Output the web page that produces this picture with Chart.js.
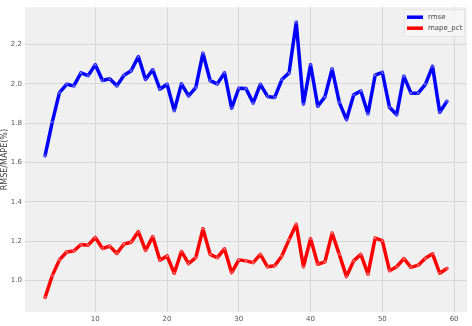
<!DOCTYPE html>
<html>
<head>
<meta charset="utf-8">
<script src="https://cdn.jsdelivr.net/npm/chart.js@4"></script>
<style>
  html, body { margin: 0; padding: 0; background: #fff; }
  #wrap { width: 472px; height: 326px; }
</style>
</head>
<body>
<div id="wrap"><canvas id="myChart" width="472" height="326"></canvas></div>
<script>
// x positions (window size)
const steps = [3, 4, 5, 6, 7, 8, 9, 10, 11, 12, 13, 14, 15, 16, 17, 18, 19, 20,
  21, 22, 23, 24, 25, 26, 27, 28, 29, 30, 31, 32, 33, 34, 35, 36, 37, 38, 39, 40,
  41, 42, 43, 44, 45, 46, 47, 48, 49, 50, 51, 52, 53, 54, 55, 56, 57, 58, 59];

const rmse = [1.635, 1.806, 1.956, 1.998, 1.99, 2.056, 2.042, 2.097, 2.017, 2.026,
  1.99, 2.044, 2.067, 2.139, 2.022, 2.072, 1.973, 1.998, 1.864, 2.0,
  1.939, 1.981, 2.156, 2.017, 2.0, 2.056, 1.876, 1.978, 1.976, 1.903,
  1.998, 1.936, 1.931, 2.022, 2.056, 2.313, 1.898, 2.097, 1.886, 1.934,
  2.076, 1.906, 1.818, 1.944, 1.964, 1.848, 2.044, 2.059, 1.881, 1.843,
  2.039, 1.953, 1.953, 1.998, 2.089, 1.856, 1.911];

const mapePct = [0.914, 1.025, 1.105, 1.145, 1.15, 1.183, 1.18, 1.219, 1.163, 1.175,
  1.138, 1.186, 1.195, 1.249, 1.153, 1.224, 1.103, 1.125, 1.037, 1.148,
  1.086, 1.116, 1.263, 1.133, 1.116, 1.161, 1.04, 1.105, 1.1, 1.091,
  1.133, 1.07, 1.075, 1.125, 1.208, 1.286, 1.07, 1.213, 1.083, 1.095,
  1.241, 1.133, 1.02, 1.1, 1.133, 1.033, 1.216, 1.203, 1.05, 1.07,
  1.111, 1.067, 1.078, 1.113, 1.136, 1.037, 1.061];

const xTicks = [10, 20, 30, 40, 50, 60];
const yTicks = [1.0, 1.2, 1.4, 1.6, 1.8, 2.0, 2.2];

function toPoints(vals) {
    return vals.map(function (v, i) { return { x: steps[i], y: v }; });
}

// grey plot background
const plotBg = {
    id: 'plotBg',
    beforeDraw(chart) {
        const a = chart.chartArea, ctx = chart.ctx;
        ctx.save();
        ctx.fillStyle = '#f0f0f0';
        ctx.fillRect(a.left, a.top, a.right - a.left, a.bottom - a.top);
        ctx.restore();
    }
};

// legend box in the upper right corner, drawn from the datasets
const cornerLegend = {
    id: 'cornerLegend',
    afterDraw(chart) {
        const a = chart.chartArea, ctx = chart.ctx;
        const x0 = a.right - 63, y0 = a.top + 2;
        ctx.save();
        ctx.fillStyle = 'rgba(246,246,246,0.9)';
        ctx.strokeStyle = '#e4e4e4';
        ctx.lineWidth = 1;
        ctx.fillRect(x0, y0, 60, 27);
        ctx.strokeRect(x0 + 0.5, y0 + 0.5, 60, 27);
        ctx.font = '7px "DejaVu Sans"';
        ctx.textBaseline = 'middle';
        chart.data.datasets.forEach(function (ds, i) {
            const y = y0 + 8 + i * 11;
            ctx.strokeStyle = ds.borderColor;
            ctx.lineWidth = 3.5;
            ctx.beginPath();
            ctx.moveTo(x0 + 3, y);
            ctx.lineTo(x0 + 19, y);
            ctx.stroke();
            ctx.fillStyle = '#444';
            ctx.fillText(ds.label, x0 + 24, y);
        });
        ctx.restore();
    }
};

const data = {
    datasets: [{
        label: 'rmse',
        data: toPoints(rmse),
        borderColor: '#0000ff',
        borderWidth: 3.5,
        borderJoinStyle: 'round',
        borderCapStyle: 'round',
        pointStyle: 'crossRot',
        pointRadius: 2.2,
        pointBorderColor: 'rgba(140,140,255,0.8)',
        pointBorderWidth: 1,
        tension: 0
    }, {
        label: 'mape_pct',
        data: toPoints(mapePct),
        borderColor: '#ff0000',
        borderWidth: 3.5,
        borderJoinStyle: 'round',
        borderCapStyle: 'round',
        pointStyle: 'crossRot',
        pointRadius: 2.2,
        pointBorderColor: 'rgba(255,150,150,0.8)',
        pointBorderWidth: 1,
        tension: 0
    }]
};

const config = {
    type: 'line',
    data,
    plugins: [plotBg, cornerLegend],
    options: {
        responsive: false,
        animation: false,
        layout: { padding: { top: 3, right: 4, left: 0, bottom: 0 } },
        plugins: { legend: { display: false }, tooltip: { enabled: false } },
        scales: {
            x: {
                type: 'linear',
                min: 0.2,
                max: 61.8,
                afterBuildTicks: function (scale) {
                    scale.ticks = xTicks.map(function (v) { return { value: v }; });
                },
                afterFit: function (scale) { scale.height = 14; },
                grid: { color: '#d6d6d6', drawTicks: false },
                border: { display: false },
                ticks: {
                    padding: 3,
                    color: '#555',
                    font: { family: 'DejaVu Sans', size: 7 },
                    maxRotation: 0
                }
            },
            y: {
                min: 0.84,
                max: 2.39,
                afterBuildTicks: function (scale) {
                    scale.ticks = yTicks.map(function (v) { return { value: v }; });
                },
                afterFit: function (scale) { scale.width = 25; },
                grid: { color: '#d6d6d6', drawTicks: false },
                border: { display: false },
                ticks: {
                    padding: 3,
                    color: '#555',
                    font: { family: 'DejaVu Sans', size: 7 },
                    callback: function (v) { return v.toFixed(1); }
                },
                title: {
                    display: true,
                    text: 'RMSE/MAPE(%)',
                    color: '#444',
                    padding: 0,
                    font: { family: 'DejaVu Sans', size: 8 }
                }
            }
        }
    }
};

var myChart = new Chart(document.getElementById('myChart'), config);
</script>
</body>
</html>
